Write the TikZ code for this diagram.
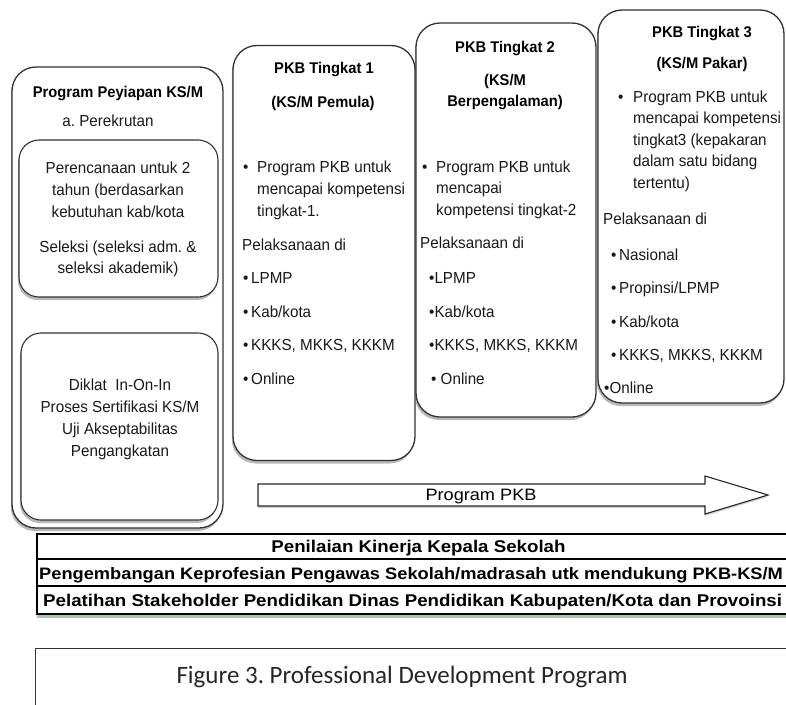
\documentclass[tikz,border=0pt]{standalone}
\usepackage{fontspec}
\setmainfont{Liberation Sans}[FakeStretch=0.95]
\newfontfamily\tabfont{Liberation Sans}[FakeStretch=1.1]
\newfontfamily\capfont{Carlito}
\usetikzlibrary{shadows}
\frenchspacing
\tikzset{
  card/.style={draw=black!80, line width=1.3pt, fill=white, rounded corners=24pt, inner sep=0pt,
    drop shadow={shadow xshift=-1.2pt, shadow yshift=-3pt, opacity=0.5, fill=black!55}},
  inbox/.style={card, rounded corners=20pt, line width=1.1pt},
  body/.style={font=\fontsize{16}{19}\selectfont, text height=11.5pt, text depth=0pt, inner sep=0pt, text=black!90},
  lft/.style={body, anchor=west},
  ttl/.style={font=\bfseries\fontsize{15.5}{18}\selectfont, text height=11pt, text depth=0pt, inner sep=0pt},
  rowbox/.style={draw=black, line width=1.1pt, fill=white, inner sep=0pt,
    font=\tabfont\bfseries\fontsize{17}{20}\selectfont, text height=12pt, text depth=0pt},
  rowtxt/.style={font=\tabfont\bfseries\fontsize{17}{20}\selectfont, text height=12pt, text depth=0pt, inner sep=0pt, anchor=west},
}
\begin{document}
\begin{tikzpicture}[x=1pt,y=-1pt]
\useasboundingbox (0,0) rectangle (786,704);
\clip (0,0) rectangle (786,704);
\fill[white] (0,0) rectangle (786,704);

% ---------- left column ----------
\node[card, minimum width=211pt, minimum height=461pt] (L) at (117.5,297.5) {};
\node[ttl] (Ltitle) at (118,92) {Program Peyiapan KS/M};
\node[body] (Lsub) at (108,121) {a. Perekrutan};
\node[inbox, minimum width=199pt, minimum height=157pt] (L1) at (118.5,218.5) {};
\node[body] (L1a) at (118,168) {Perencanaan untuk 2};
\node[body] (L1b) at (118,190) {tahun (berdasarkan};
\node[body] (L1c) at (118,212) {kebutuhan kab/kota};
\node[body] (L1d) at (118,247) {Seleksi (seleksi adm. \&};
\node[body] (L1e) at (118,268) {seleksi akademik)};
\node[inbox, minimum width=197pt, minimum height=187pt] (L2) at (119.5,426.5) {};
\node[body] (L2a) at (120,385) {Diklat\ \ In-On-In};
\node[body] (L2b) at (120,407) {Proses Sertifikasi KS/M};
\node[body] (L2c) at (120,429) {Uji Akseptabilitas};
\node[body] (L2d) at (120,451) {Pengangkatan};

% ---------- PKB Tingkat 1 ----------
\node[card, minimum width=182pt, minimum height=415pt] (T1) at (324,253) {};
\node[ttl] (T1t) at (324,68) {PKB Tingkat 1};
\node[ttl] (T1s) at (323,102) {(KS/M Pemula)};
\node[lft] (T1b) at (243,167) {\textbullet};
\node[lft] (T1p1) at (257,167) {Program PKB untuk};
\node[lft] (T1p2) at (257,189) {mencapai kompetensi};
\node[lft] (T1p3) at (257,211) {tingkat-1.};
\node[lft] (T1pel) at (242,245) {Pelaksanaan di};
\node[lft] (T1i1) at (243,278) {\textbullet\,LPMP};
\node[lft] (T1i2) at (243,312) {\textbullet\,Kab/kota};
\node[lft] (T1i3) at (243,345) {\textbullet\,KKKS, MKKS, KKKM};
\node[lft] (T1i4) at (243,379) {\textbullet\,Online};

% ---------- PKB Tingkat 2 ----------
\node[card, minimum width=180pt, minimum height=394pt] (T2) at (506,220) {};
\node[ttl] (T2t) at (505,47) {PKB Tingkat 2};
\node[ttl] (T2s1) at (505,80) {(KS/M};
\node[ttl] (T2s2) at (505,101) {Berpengalaman)};
\node[lft] (T2b) at (422,167) {\textbullet};
\node[lft] (T2p1) at (436,167) {Program PKB untuk};
\node[lft] (T2p2) at (436,188) {mencapai};
\node[lft] (T2p3) at (436,210) {kompetensi tingkat-2};
\node[lft] (T2pel) at (420,243) {Pelaksanaan di};
\node[lft] (T2i1) at (429,278) {\textbullet LPMP};
\node[lft] (T2i2) at (429,312) {\textbullet Kab/kota};
\node[lft] (T2i3) at (429,345) {\textbullet KKKS, MKKS, KKKM};
\node[lft] (T2i4) at (431,379) {\textbullet\ Online};

% ---------- PKB Tingkat 3 ----------
\node[card, minimum width=186pt, minimum height=393pt] (T3) at (691,206.5) {};
\node[ttl] (T3t) at (702,32) {PKB Tingkat 3};
\node[ttl] (T3s) at (702,63) {(KS/M Pakar)};
\node[lft] (T3b) at (618,97) {\textbullet};
\node[lft] (T3p1) at (633,97) {Program PKB untuk};
\node[lft] (T3p2) at (633,118) {mencapai kompetensi};
\node[lft] (T3p3) at (633,140) {tingkat3 (kepakaran};
\node[lft] (T3p4) at (633,161) {dalam satu bidang};
\node[lft] (T3p5) at (633,183) {tertentu)};
\node[lft] (T3pel) at (603,219) {Pelaksanaan di};
\node[lft] (T3i1) at (611,255) {\textbullet\,Nasional};
\node[lft] (T3i2) at (611,288) {\textbullet\,Propinsi/LPMP};
\node[lft] (T3i3) at (611,322) {\textbullet\,Kab/kota};
\node[lft] (T3i4) at (611,355) {\textbullet\,KKKS, MKKS, KKKM};
\node[lft] (T3i5) at (604,388) {\textbullet Online};

% ---------- Program PKB arrow ----------
\draw[black!85, line width=1.1pt, fill=white,
  drop shadow={shadow xshift=0pt, shadow yshift=-2pt, opacity=0.35, fill=black!50}]
  (258,484) -- (705,484) -- (705,476) -- (768,495) -- (705,514) -- (705,506) -- (258,506) -- cycle;
\node[font=\tabfont\fontsize{16.5}{19}\selectfont, text height=11.5pt, text depth=0pt, inner sep=0pt] (arrowlbl) at (481,495) {Program PKB};

% ---------- table ----------
\node[draw=black, fill=white, minimum width=763pt, minimum height=80pt, inner sep=0pt,
  drop shadow={shadow xshift=0pt, shadow yshift=-4pt, opacity=0.45, fill=black!50!green!40!gray}] (tab) at (418.5,574) {};
\node[rowbox, minimum width=763pt, minimum height=25pt] (r1) at (418.5,546.5) {Penilaian Kinerja Kepala Sekolah};
\node[rowbox, minimum width=763pt, minimum height=27pt] (r2) at (418.5,572.5) {};
\node[rowbox, minimum width=763pt, minimum height=28pt] (r3) at (418.5,600) {};
\node[rowtxt, font=\tabfont\bfseries\fontsize{16.6}{20}\selectfont] (r2t) at (39,573) {Pengembangan Keprofesian Pengawas Sekolah/madrasah utk mendukung PKB-KS/M};
\node[rowtxt] (r3t) at (43,600) {Pelatihan Stakeholder Pendidikan Dinas Pendidikan Kabupaten/Kota dan Provoinsi};

% ---------- caption ----------
\node[draw=black!80, line width=1pt, minimum width=770pt, minimum height=80pt, inner sep=0pt] (capbox) at (420,688) {};
\node[font=\capfont\fontsize{25}{28}\selectfont, text height=16pt, text depth=0pt, inner sep=0pt, text=black!85] (cap) at (402,675) {Figure 3. Professional Development Program};
\end{tikzpicture}
\end{document}
